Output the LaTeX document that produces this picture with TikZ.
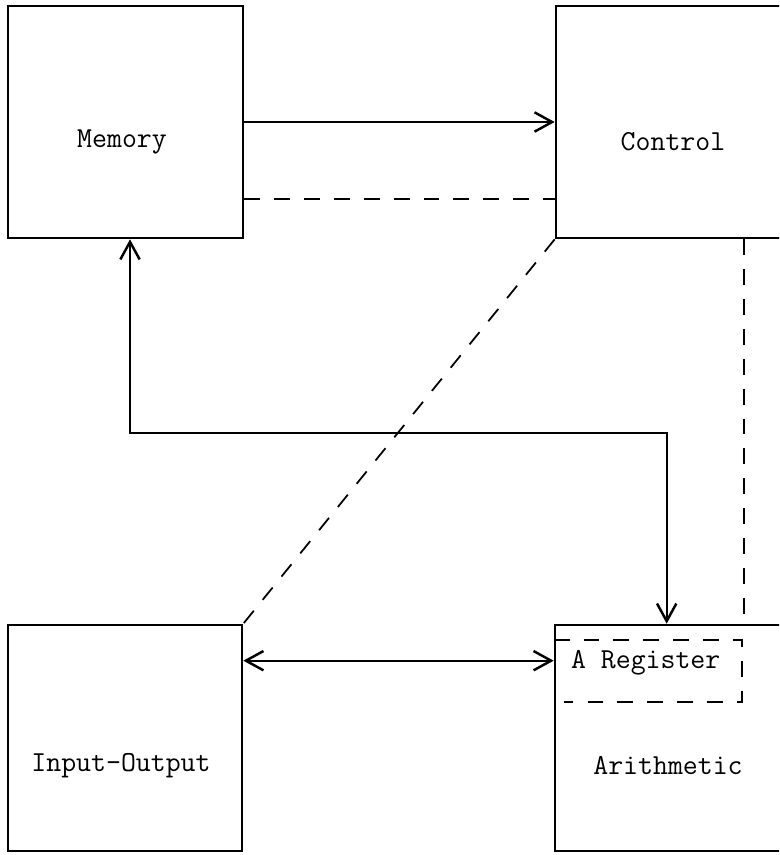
\documentclass[tikz,border=0pt]{standalone}
\usepackage{tikz}
\usetikzlibrary{arrows.meta,positioning,calc}

\begin{document}
\begin{tikzpicture}[
    unit/.style={draw, rectangle, line width=1.5pt, inner sep=0pt},
    lbl/.style={font=\fontsize{16.5}{19}\selectfont\ttfamily, inner sep=0pt},
    arrow/.style={line width=1.3pt, -{Straight Barb[length=10pt,width=11pt,line width=1.4pt]}},
    dbl/.style={line width=1.3pt, {Straight Barb[length=10pt,width=11pt,line width=1.4pt]}-{Straight Barb[length=10pt,width=11pt,line width=1.4pt]}},
    link/.style={line width=1pt, dash pattern=on 9pt off 8pt}
]
\useasboundingbox (0,0) rectangle (15.58,-17.10);
\clip (0,0) rectangle (15.58,-17.10);

% units
\node[unit, minimum width=4.70cm, minimum height=4.64cm] (mem) at (2.51,-2.44) {};
\node[unit, minimum width=4.80cm, minimum height=4.64cm] (ctrl) at (13.52,-2.44) {};
\node[unit, minimum width=4.68cm, minimum height=4.52cm] (io) at (2.50,-14.76) {};
\node[unit, minimum width=4.80cm, minimum height=4.52cm] (arith) at (13.50,-14.76) {};

\node[lbl] (memtxt) at (2.44,-2.84) {Memory};
\node[lbl] (ctrltxt) at (13.46,-2.84) {Control};
\node[lbl] (iotxt) at (2.42,-15.32) {Input-Output};
\node[lbl] (arithtxt) at (13.36,-15.32) {Arithmetic};

% A register inside arithmetic
\coordinate (aregnw) at ($(arith.north west)+(0,-0.32)$);
\coordinate (arega) at ($(arith.north west)+(3.76,-0.32)$);
\coordinate (aregb) at ($(arith.north west)+(3.76,-1.56)$);
\coordinate (aregsw) at ($(arith.north west)+(0.2,-1.56)$);
\draw[link] (aregnw) -- (arega) -- (aregb) -- (aregsw);
\node[lbl] (areg) at ($(arith.north west)+(1.84,-0.78)$) {A Register};

% connections
\draw[arrow] (mem.east) -- (mem.east -| ctrl.west);
\coordinate (dm) at ($(mem.south east)+(0,0.80)$);
\draw[link] (dm) -- (dm -| ctrl.west);
\draw[link] (ctrl.south west) -- (io.north east);
\coordinate (dc) at ($(ctrl.south west)+(3.78,0)$);
\draw[link] (dc) -- (dc |- arith.north);
\coordinate (mb) at ($(mem.south)+(0.09,0)$);
\coordinate (at) at ($(arith.north west)+(2.26,0)$);
\draw[dbl] (mb) -- ++(0,-3.88) -| (at);
\coordinate (ie) at ($(io.north east)+(0,-0.74)$);
\draw[dbl] (ie) -- (ie -| arith.west);
\end{tikzpicture}
\end{document}
